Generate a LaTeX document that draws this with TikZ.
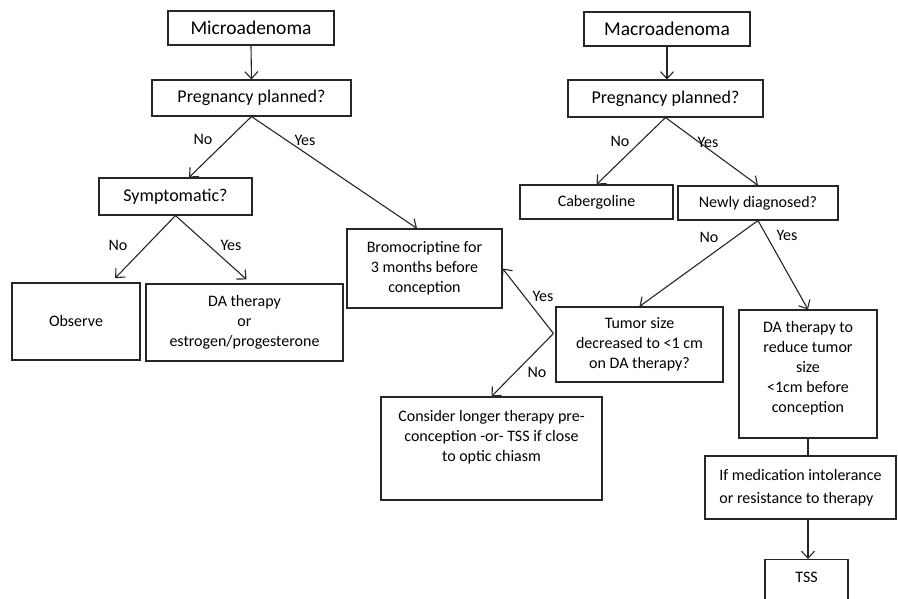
\documentclass[tikz,border=0pt]{standalone}
\usepackage{fontspec}
\setmainfont{Carlito}
\usetikzlibrary{arrows.meta,calc}

\tikzset{
  box/.style={draw=black!85, line width=1.1pt, align=center, inner sep=2pt,
    font=\fontsize{16}{20}\selectfont},
  arr/.style={->, line width=1.1pt, draw=black!85},
  lbl/.style={inner sep=0pt, font=\fontsize{16}{20}\selectfont},
}

\begin{document}
\begin{tikzpicture}[x=1pt, y=-1pt, >={Straight Barb[length=7pt,width=13pt]}]

\useasboundingbox (0,0) rectangle (898,599);

% Microadenoma branch
\node[box, minimum width=166, minimum height=34, font=\fontsize{19.5}{22}\selectfont] (micro) at (251,28) {Microadenoma};
\node[box, minimum width=199, minimum height=36, font=\fontsize{18}{22}\selectfont] (prepL) at (251.5,98) {Pregnancy planned?};
\node[box, minimum width=153, minimum height=37, font=\fontsize{18}{22}\selectfont] (sympt) at (175.5,196.5) {Symptomatic?};
\node[box, minimum width=128, minimum height=77] (observe) at (76,321.5) {Observe};
\node[box, minimum width=197, minimum height=77] (daopt) at (244.5,322.5) {DA therapy\\or\\estrogen/progesterone};
\node[box, minimum width=155, minimum height=79] (bromo) at (424.5,268.5) {Bromocriptine for\\3 months before\\conception};

% Macroadenoma branch
\node[box, minimum width=166, minimum height=34, font=\fontsize{19.5}{22}\selectfont] (macro) at (667,29) {Macroadenoma};
\node[box, minimum width=195, minimum height=37, font=\fontsize{18}{22}\selectfont] (prepR) at (665.5,98.5) {Pregnancy planned?};
\node[box, minimum width=153, minimum height=34] (caber) at (596.5,202) {Cabergoline};
\node[box, minimum width=160, minimum height=34] (newly) at (758,203) {Newly diagnosed?};
\node[box, minimum width=167, minimum height=75] (tumor) at (639.5,344.5) {Tumor size\\decreased to <1 cm\\on DA therapy?};
\node[box, minimum width=221, minimum height=103] (consider) at (491.5,448.5) {Consider longer therapy pre-\\conception -or- TSS if close\\to optic chiasm\\\strut};
\node[box, minimum width=138, minimum height=128] (dareduce) at (808,374) {DA therapy to\\reduce tumor\\size\\<1cm before\\conception\\[-12pt]\strut};
\node[box, minimum width=191, minimum height=63, align=left, font=\fontsize{16}{23}\selectfont] (ifmed) at (800.5,487.5) {If medication intolerance\\or resistance to therapy};
\node[box, anchor=north, minimum width=83, inner ysep=0pt, text height=23pt, text depth=30pt] (tss) at (806.5,559) {TSS};

% Connectors
\draw[arr] (micro.south) -- (prepL.north);
\draw[arr] (prepL.south) -- ($(sympt.north)+(13.5,0)$);
\draw[arr] (prepL.south) -- ($(bromo.north)+(-7.5,0)$);
\draw[arr, shorten >=6pt] (sympt.south) -- ($(observe.north)+(35,0)$);
\draw[arr, shorten >=6pt] (sympt.south) -- ($(daopt.north)+(6.5,0)$);

\draw[arr] (macro.south) -- (macro.south |- prepR.north);
\draw[arr] (prepR.south) -- (caber.north);
\draw[arr] (prepR.south) -- (newly.north);
\draw[arr] (newly.south) -- (tumor.north);
\draw[arr] (newly.south) -- (dareduce.north);
\coordinate (tumorpt) at ($(tumor.west)+(-2,-11)$);
\draw[arr] (tumorpt) -- (bromo.east);
\draw[arr] (tumorpt) -- (consider.north);
\draw[line width=1.1pt, draw=black!85] (dareduce.south) -- (dareduce.south |- ifmed.north);
\draw[arr] (dareduce.south |- ifmed.south) -- (dareduce.south |- tss.north);

% Labels
\node[lbl] (noPL) at (203,139) {No};
\node[lbl] (yesPL) at (305,140) {Yes};
\node[lbl] (noSy) at (118,245) {No};
\node[lbl] (yesSy) at (231,245) {Yes};
\node[lbl] (noPR) at (620,141) {No};
\node[lbl] (yesPR) at (708,142) {Yes};
\node[lbl] (noNd) at (709,237) {No};
\node[lbl] (yesNd) at (787,235) {Yes};
\node[lbl] (yesTu) at (543,296) {Yes};
\node[lbl] (noTu) at (537,372) {No};

\end{tikzpicture}
\end{document}
